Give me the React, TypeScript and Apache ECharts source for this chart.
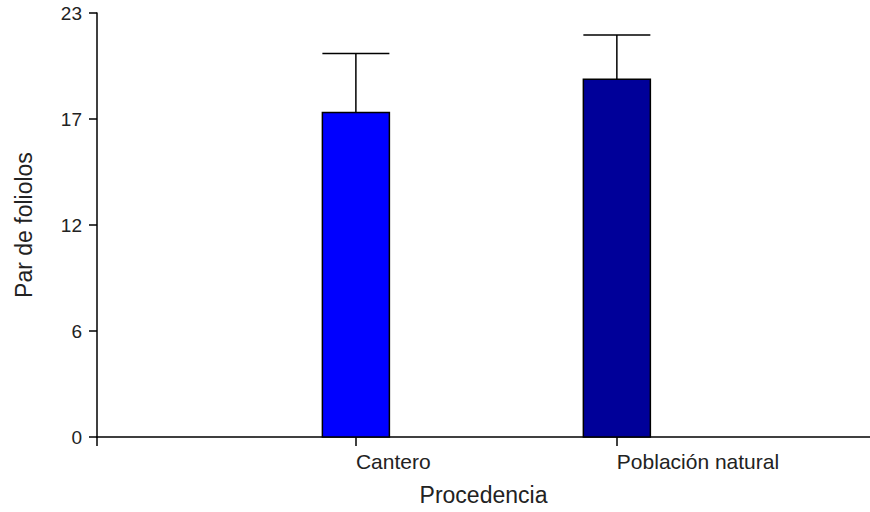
import React, { useEffect, useRef } from "react";
import * as echarts from "echarts";

const categories = ["Cantero", "Población natural"];
const categoryPositions = [1, 2];
const means = [17.6, 19.4];
const upperErr = [20.8, 21.8];
const barColors = ["#0000FF", "#000099"];
const yTicks = { min: 0, max: 23, interval: 5.75 };

export default function App() {
  const ref = useRef<HTMLDivElement>(null);
  useEffect(() => {
    document.body.style.margin = "0";
    document.body.style.overflow = "hidden";
    if (!ref.current) return;
    const chart = echarts.init(ref.current, null, { renderer: "svg" });
    const font = "Liberation Sans, Arial, sans-serif";
    chart.setOption({
      animation: false,
      grid: { left: 97, right: 0, top: 13, bottom: 75, containLabel: false },
      graphic: [
        {
          type: "line",
          shape: { x1: 97, y1: 437, x2: 97, y2: 446 },
          style: { stroke: "#000", lineWidth: 1.5 },
        },
      ],
      xAxis: {
        type: "value",
        min: 0.008,
        max: 2.97,
        name: "Procedencia",
        nameLocation: "middle",
        nameGap: 46,
        nameTextStyle: { fontFamily: font, fontSize: 23, color: "#222" },
        axisLine: { show: true, onZero: false, lineStyle: { color: "#000", width: 1.5 } },
        axisTick: {
          show: true,
          length: 9,
          customValues: categoryPositions,
          lineStyle: { color: "#000", width: 1.5 },
        },
        axisLabel: {
          margin: 14,
          fontFamily: font,
          fontSize: 21,
          color: "#222",
          align: "left",
          customValues: categoryPositions,
          formatter: (v: number) => categories[categoryPositions.indexOf(Math.round(v))] ?? "",
        },
        splitLine: { show: false },
      },
      yAxis: {
        type: "value",
        min: yTicks.min,
        max: yTicks.max,
        interval: yTicks.interval,
        name: "Par de foliolos",
        nameLocation: "middle",
        nameGap: 62,
        nameTextStyle: { fontFamily: font, fontSize: 23, color: "#222" },
        axisLine: { show: true, lineStyle: { color: "#000", width: 1.5 } },
        axisTick: { show: true, length: 8, lineStyle: { color: "#000", width: 1.5 } },
        axisLabel: {
          margin: 15,
          fontFamily: font,
          fontSize: 19,
          color: "#222",
          formatter: (v: number) => String(Math.round(v)),
        },
        splitLine: { show: false },
      },
      series: [
        {
          type: "custom",
          renderItem: (params: any, api: any) => {
            const idx = params.dataIndex;
            const x = api.value(0);
            const mean = api.value(1);
            const top = api.value(2);
            const pBase = api.coord([x, 0]);
            const pMean = api.coord([x, mean]);
            const pTop = api.coord([x, top]);
            const half = 33.5;
            return {
              type: "group",
              children: [
                {
                  type: "line",
                  shape: { x1: pTop[0], y1: pTop[1], x2: pMean[0], y2: pMean[1] },
                  style: { stroke: "#000", lineWidth: 1.5 },
                },
                {
                  type: "line",
                  shape: { x1: pTop[0] - half, y1: pTop[1], x2: pTop[0] + half, y2: pTop[1] },
                  style: { stroke: "#000", lineWidth: 1.5 },
                },
                {
                  type: "rect",
                  shape: { x: pMean[0] - half, y: pMean[1], width: half * 2, height: pBase[1] - pMean[1] },
                  style: { fill: barColors[idx], stroke: "#000", lineWidth: 1.5 },
                },
              ],
            };
          },
          data: categories.map((c, i) => [categoryPositions[i], means[i], upperErr[i]]),
        },
      ],
    });
    return () => chart.dispose();
  }, []);
  return <div ref={ref} style={{ width: 870, height: 512 }} />;
}
